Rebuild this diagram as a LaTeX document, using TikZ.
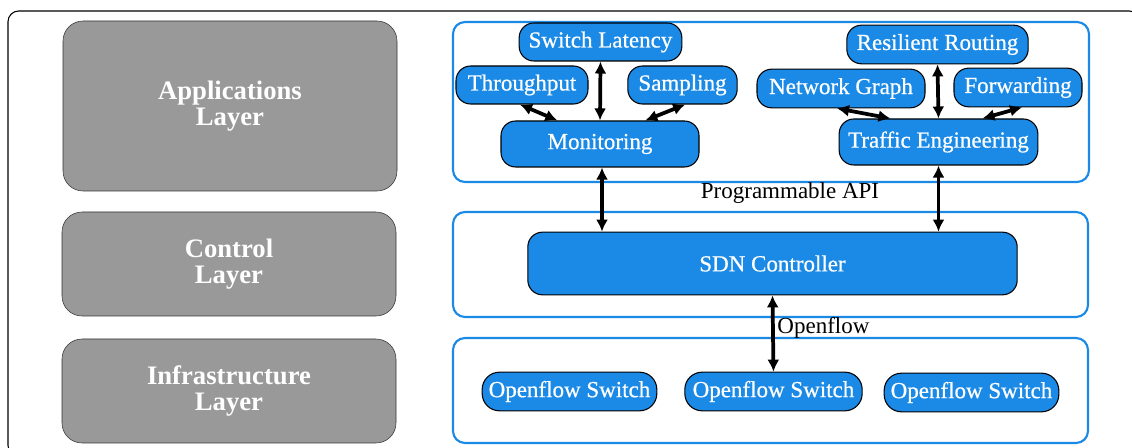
\documentclass[tikz,border=0pt]{standalone}
\usepackage{fontspec}
\setmainfont{Liberation Serif}
\newfontfamily\boxfont[FakeBold=0.6]{Liberation Serif}
\usetikzlibrary{arrows.meta,positioning}
\tikzset{>={Latex[length=9pt,width=9pt]}}
\definecolor{sdnblue}{RGB}{26,138,230}
\definecolor{layergray}{RGB}{153,153,153}
\tikzset{
	layerbox/.style={draw=black!80, fill=layergray, rounded corners=15pt, text=white, align=center, font=\fontsize{20}{19.5}\selectfont\bfseries, minimum width=250.5pt},
	container/.style={draw=sdnblue, line width=1.6pt, rounded corners=9pt},
	appbox/.style={draw=black, line width=0.8pt, fill=sdnblue, text=white, rounded corners=11pt, minimum height=28.5pt, inner sep=2pt, font=\boxfont\fontsize{17.25}{20}\selectfont},
	link/.style={<->, line width=2.8pt}
}

\begin{document}
\begin{tikzpicture}[x=0.75pt, y=-0.75pt, font=\fontsize{17.25}{20}\selectfont]
		\useasboundingbox (0,0) rectangle (1132,448);
		\draw[line width=0.8pt, rounded corners=8pt] (8,11) rectangle (1140,456);
		\node[layerbox, minimum height=127.5pt] (applayer) at (230,106) {Applications\\Layer};
		\node[layerbox, minimum height=78pt] (ctrllayer) at (229,264) {Control\\Layer};
		\node[layerbox, minimum height=78pt] (infralayer) at (229,391) {Infrastructure\\Layer};
		\draw[container] (453,22) rectangle (1089,182);
		\draw[container] (453,212) rectangle (1088,317);
		\draw[container] (453,338) rectangle (1088,443);
		\node[appbox, minimum width=122pt] (latency) at (600.5,42) {Switch Latency};
		\node[appbox, minimum width=99pt] (throughput) at (522,85) {Throughput};
		\node[appbox, minimum width=82pt] (sampling) at (682.5,85) {Sampling};
		\node[appbox, minimum width=148.5pt, minimum height=34.5pt] (monitoring) at (600,144) {Monitoring};
		\node[appbox, minimum width=136pt, minimum height=29pt] (resilient) at (937.5,44.5) {Resilient Routing};
		\node[appbox, minimum width=126pt, minimum height=29pt] (netgraph) at (841,88.5) {Network Graph};
		\node[appbox, minimum width=96pt, minimum height=29pt] (forwarding) at (1018,87.5) {Forwarding};
		\node[appbox, minimum width=149pt, minimum height=34.5pt] (traffic) at (938.5,142) {Traffic Engineering};
		\node[appbox, minimum width=367pt, minimum height=47pt] (controller) at (772.5,263.5) {SDN Controller};
		\node[appbox, minimum width=131pt, minimum height=29pt, rounded corners=13pt] (switch1) at (569.5,391.5) {Openflow Switch};
		\node[appbox, minimum width=133pt, minimum height=29pt, rounded corners=13pt] (switch2) at (773.5,391.5) {Openflow Switch};
		\node[appbox, minimum width=131pt, minimum height=29pt, rounded corners=13pt] (switch3) at (971.5,392.5) {Openflow Switch};
		\node (api) at (790,193) {Programmable API};
		\draw[link] (latency.south) -- (monitoring.north);
		\draw[link] ([xshift=-1.5pt]throughput.south) -- ([xshift=-32pt]monitoring.north);
		\draw[link] ([xshift=2pt]sampling.south) -- ([xshift=34pt]monitoring.north);
		\draw[link] (resilient.south) -- (traffic.north);
		\draw[link] ([xshift=-3pt]netgraph.south) -- ([xshift=-36pt]traffic.north);
		\draw[link] ([xshift=3pt]forwarding.south) -- ([xshift=33pt]traffic.north);
		\draw[link] ([xshift=1.5pt]monitoring.south) -- ([xshift=1.5pt]monitoring.south |- controller.north);
		\draw[link] (traffic.south) -- (traffic.south |- controller.north);
		\draw[link] (controller.south) -- node[right, pos=0.42, inner sep=2pt] (openflow) {Openflow} (switch2.north);
	\end{tikzpicture}
\end{document}
